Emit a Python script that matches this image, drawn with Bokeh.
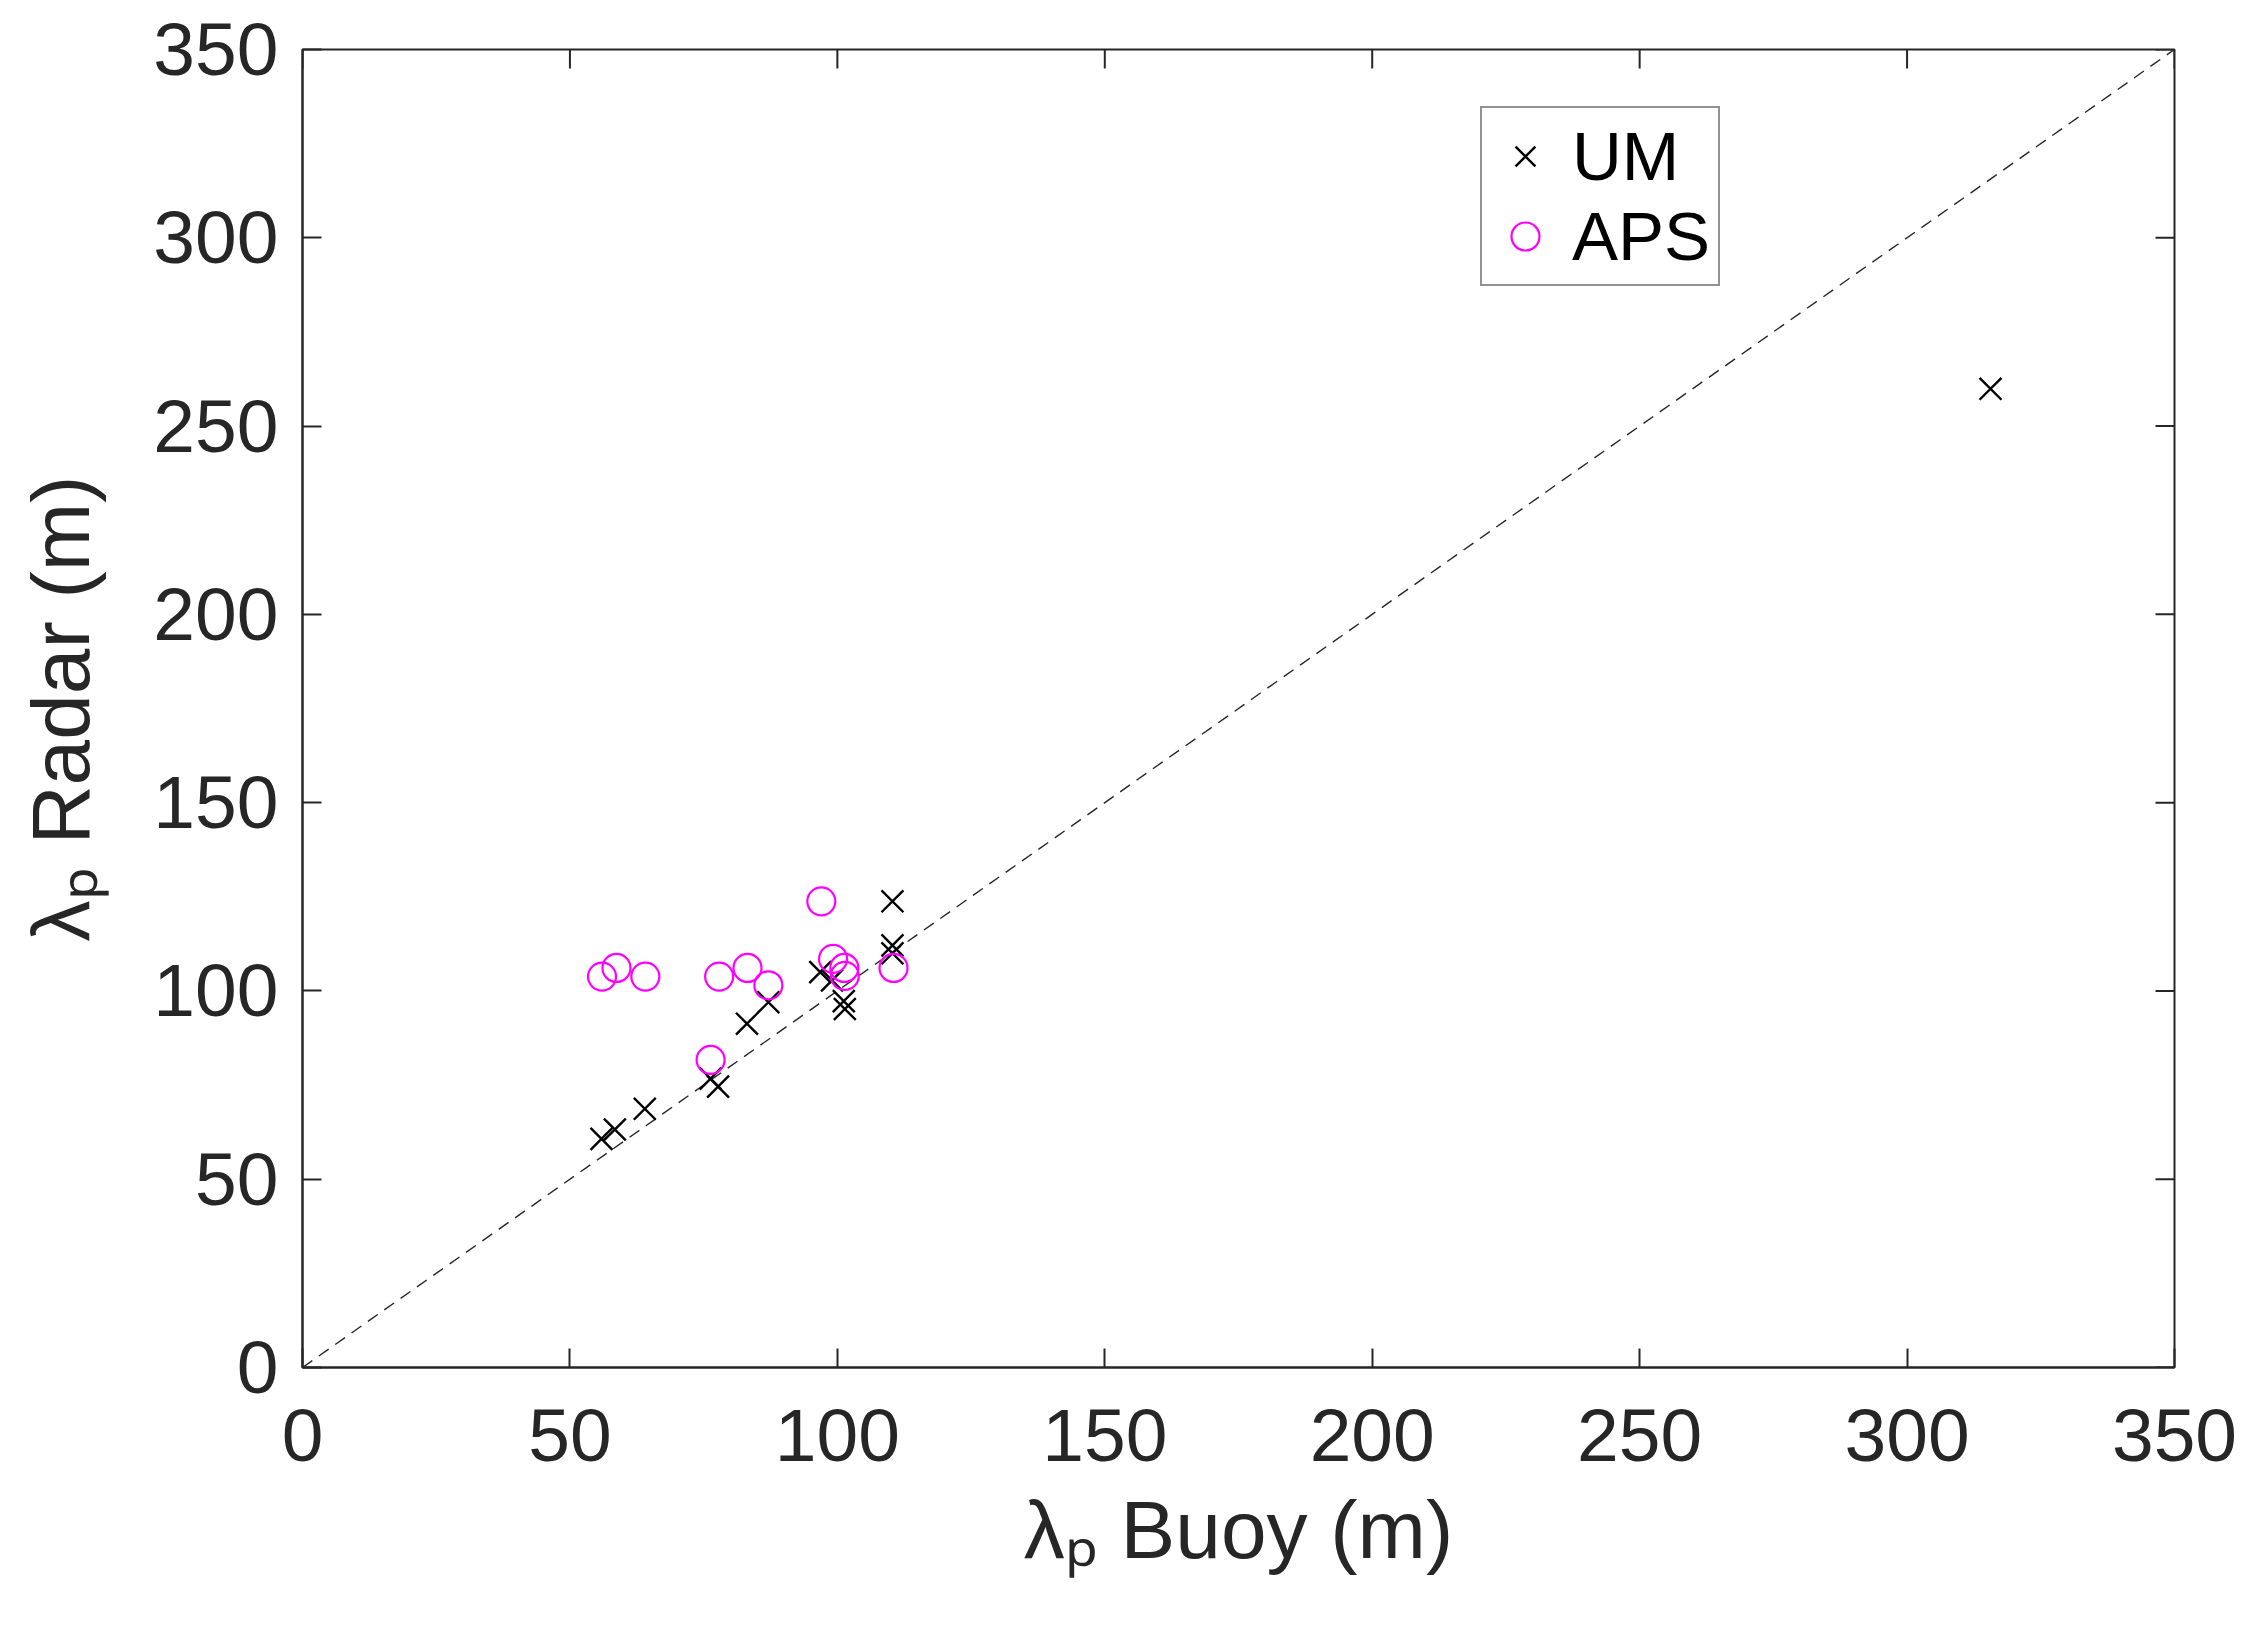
import math
from bokeh.plotting import figure
from bokeh.models import Range1d, FixedTicker, Legend, LegendItem
from bokeh.embed import file_html
from bokeh.resources import INLINE

# Data
um_buoy = [55.9, 58.4, 64.0, 76.3, 77.7, 83.1, 87.1, 96.8, 99.0, 101.2, 101.4, 110.3, 110.3, 110.3, 315.6]
um_radar = [60.7, 63.2, 68.7, 76.7, 74.6, 91.3, 97.0, 105.0, 102.8, 97.3, 95.2, 123.8, 112.1, 110.0, 259.9]

aps_buoy = [56.0, 58.7, 64.1, 77.9, 83.2, 87.1, 76.3, 97.0, 99.2, 101.3, 101.4, 110.5]
aps_radar = [103.8, 106.1, 103.8, 103.8, 106.1, 101.5, 81.7, 123.8, 108.5, 106.1, 104.0, 106.1]

diag = [0, 350]
ticks = [0, 50, 100, 150, 200, 250, 300, 350]
axis_max = 350

FONT = "Liberation Sans"
TXT = "#262626"

p = figure(width=2242, height=1626, output_backend="svg", toolbar_location=None,
           x_range=Range1d(0, axis_max), y_range=Range1d(0, axis_max),
           min_border_left=302, min_border_right=68, min_border_top=49, min_border_bottom=259)

p.grid.visible = False
p.background_fill_color = "white"
p.border_fill_color = "white"
p.outline_line_color = TXT
p.outline_line_width = 2

for ax in (p.xaxis[0], p.yaxis[0]):
    ax.ticker = FixedTicker(ticks=ticks)
    ax.major_tick_in = 19
    ax.major_tick_out = 0
    ax.minor_tick_in = 0
    ax.minor_tick_out = 0
    ax.axis_line_color = TXT
    ax.axis_line_width = 2
    ax.major_tick_line_color = TXT
    ax.major_tick_line_width = 2
    ax.major_label_text_font = FONT
    ax.major_label_text_font_size = "75px"
    ax.major_label_text_color = TXT
    ax.axis_label_text_font = FONT
    ax.axis_label_text_font_size = "82px"
    ax.axis_label_text_font_style = "normal"
    ax.axis_label_text_color = TXT

p.xaxis[0].axis_label = "λₚ Buoy (m)"
p.yaxis[0].axis_label = "λₚ Radar (m)"
p.xaxis[0].major_label_standoff = 42
p.yaxis[0].major_label_standoff = 24
p.xaxis[0].axis_label_standoff = 20
p.yaxis[0].axis_label_standoff = 44

# inward ticks on the top and right edges (box on)
n = len(ticks)
p.ray(x=ticks, y=[axis_max] * n, length=19, length_units="screen",
      angle=-math.pi / 2, line_color=TXT, line_width=2)
p.ray(x=[axis_max] * n, y=ticks, length=19, length_units="screen",
      angle=math.pi, line_color=TXT, line_width=2)

# y = x reference line
p.line(diag, diag, line_color="#262626", line_width=1.4, line_dash="12 8")

r_um = p.scatter(um_buoy, um_radar, marker="x", size=31, line_color="black", line_width=2.4)
r_aps = p.scatter(aps_buoy, aps_radar, marker="circle", size=28, line_color="#FF00FF",
                  fill_color=None, line_width=2.2)

legend = Legend(items=[LegendItem(label="UM", renderers=[r_um]),
                       LegendItem(label="APS", renderers=[r_aps])],
                location=(1178, 1081))
legend.label_text_font = FONT
legend.label_text_font_size = "69px"
legend.label_text_color = "black"
legend.border_line_color = TXT
legend.border_line_width = 2
legend.background_fill_color = "white"
legend.background_fill_alpha = 1
legend.padding = 8
legend.spacing = 0
legend.margin = 0
legend.glyph_width = 70
legend.glyph_height = 80
legend.label_height = 80
legend.label_standoff = 12
p.add_layout(legend, "center")

open("out.html", "w").write(file_html(p, INLINE))
